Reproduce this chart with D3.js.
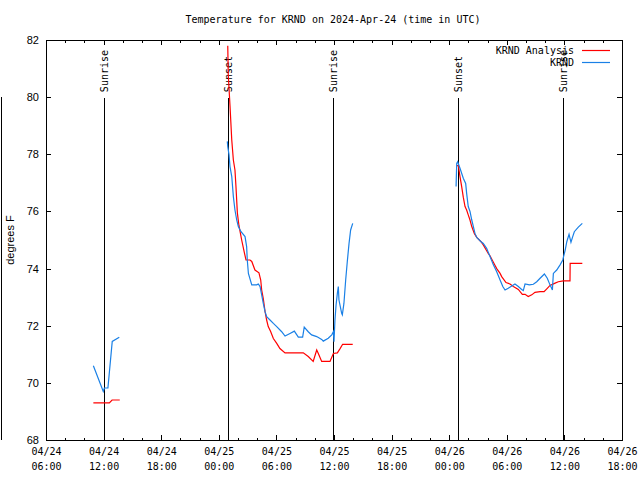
<!DOCTYPE html>
<html>
<head>
<meta charset="utf-8">
<script src="https://cdn.jsdelivr.net/npm/d3@7"></script>
<style>
  body { margin: 0; background: #fff; }
  svg { display: block; }
  text { fill: #000; }
</style>
</head>
<body>
<svg id="chart" width="640" height="480"></svg>
<script>
// ---- Data (times in UTC, "MM-DD HH:MM" in 2024) ----
const analysisTimes = [
  "04-24 10:56","04-24 12:36","04-24 12:53","04-24 13:41","04-24 18:00",
  "04-25 00:56","04-25 00:59","04-25 01:10","04-25 01:21","04-25 01:31","04-25 01:41","04-25 01:47","04-25 01:56",
  "04-25 02:06","04-25 02:23","04-25 02:40","04-25 02:50","04-25 03:15","04-25 03:26","04-25 03:46","04-25 04:11",
  "04-25 04:22","04-25 04:28","04-25 04:38","04-25 04:49","04-25 04:59","04-25 05:09","04-25 05:24","04-25 05:41",
  "04-25 06:02","04-25 06:22","04-25 06:54","04-25 08:48","04-25 09:19","04-25 09:50","04-25 10:12","04-25 10:22",
  "04-25 10:43","04-25 11:35","04-25 11:56","04-25 12:21","04-25 12:38","04-25 12:54","04-25 13:57","04-25 18:00",
  "04-26 00:47","04-26 00:57","04-26 01:08","04-26 01:18","04-26 01:28","04-26 01:39","04-26 01:49","04-26 01:59",
  "04-26 02:10","04-26 02:21","04-26 02:37","04-26 02:52","04-26 03:19","04-26 03:33","04-26 04:04","04-26 04:15",
  "04-26 04:36","04-26 04:57","04-26 05:18","04-26 05:28","04-26 05:55","04-26 06:20","04-26 06:41","04-26 07:12",
  "04-26 07:37","04-26 07:54","04-26 08:14","04-26 08:36","04-26 08:56","04-26 09:28","04-26 09:53","04-26 10:13",
  "04-26 10:30","04-26 11:02","04-26 11:22","04-26 11:53","04-26 12:35","04-26 12:36","04-26 13:52"
];
const analysisTemps = [
  69.3,69.3,69.4,69.4,null,
  81.8,80.8,79.7,78.5,77.8,77.45,76.9,75.95,
  75.5,75.0,74.55,74.3,74.3,74.25,73.95,73.85,
  73.6,73.25,72.95,72.5,72.2,71.97,71.8,71.55,
  71.38,71.2,71.05,71.05,70.92,70.75,71.15,71.03,
  70.75,70.75,71.03,71.05,71.2,71.35,71.35,null,
  77.6,77.6,77.2,76.87,76.5,76.17,76.05,75.88,
  75.7,75.47,75.23,75.09,74.94,74.83,74.53,74.45,
  74.22,74.0,73.83,73.72,73.51,73.46,73.37,73.27,
  73.1,73.1,73.02,73.08,73.17,73.19,73.19,73.31,
  73.41,73.49,73.54,73.57,73.57,74.18,74.18
];

const obsTimes = [
  "04-24 10:56","04-24 11:58","04-24 12:05","04-24 12:27","04-24 12:54","04-24 13:38","04-24 18:00",
  "04-25 00:53","04-25 00:56","04-25 01:04","04-25 01:10","04-25 01:21","04-25 01:31","04-25 01:41","04-25 01:52",
  "04-25 02:02","04-25 02:19","04-25 02:44","04-25 02:54","04-25 02:58","04-25 03:05","04-25 03:26","04-25 03:57",
  "04-25 04:07","04-25 04:18","04-25 04:28","04-25 04:38","04-25 04:49","04-25 04:59","04-25 05:20","04-25 05:41",
  "04-25 06:02","04-25 06:33","04-25 06:54","04-25 07:25","04-25 07:52","04-25 08:17","04-25 08:44","04-25 08:54",
  "04-25 09:19","04-25 09:40","04-25 10:12","04-25 10:43","04-25 10:53","04-25 11:24","04-25 11:46","04-25 11:56",
  "04-25 12:00","04-25 12:06","04-25 12:13","04-25 12:21","04-25 12:27","04-25 12:31","04-25 12:48","04-25 12:52",
  "04-25 13:02","04-25 13:13","04-25 13:23","04-25 13:34","04-25 13:44","04-25 13:57","04-25 18:00",
  "04-26 00:43","04-26 00:47","04-26 00:53","04-26 01:08","04-26 01:28","04-26 01:43","04-26 01:49","04-26 01:59",
  "04-26 02:10","04-26 02:21","04-26 02:31","04-26 02:41","04-26 02:52","04-26 03:19","04-26 03:33","04-26 03:54",
  "04-26 04:15","04-26 04:36","04-26 04:57","04-26 05:18","04-26 05:35","04-26 05:49","04-26 06:09","04-26 06:31",
  "04-26 06:51","04-26 07:12","04-26 07:33","04-26 07:43","04-26 07:54","04-26 08:21","04-26 08:46","04-26 09:07",
  "04-26 09:28","04-26 09:55","04-26 10:13","04-26 10:30","04-26 10:45","04-26 10:51","04-26 11:12","04-26 11:33",
  "04-26 11:50","04-26 11:54","04-26 12:05","04-26 12:15","04-26 12:29","04-26 12:41","04-26 12:52","04-26 13:02",
  "04-26 13:27","04-26 13:52"
];
const obsTemps = [
  70.6,69.7,69.82,69.82,71.45,71.6,null,
  78.45,78.27,77.98,77.57,77.22,76.52,76.05,75.7,
  75.47,75.29,75.12,74.77,74.3,73.83,73.43,73.43,
  73.46,73.37,73.08,72.78,72.49,72.32,72.2,72.08,
  71.97,71.79,71.64,71.73,71.81,71.6,71.6,71.95,
  71.79,71.68,71.62,71.52,71.46,71.56,71.68,71.79,
  71.44,72.2,72.73,73.13,73.37,72.9,72.43,72.38,
  72.78,73.6,74.24,74.88,75.35,75.58,null,
  76.87,77.68,77.74,77.5,77.16,76.98,76.63,76.17,
  76.0,75.7,75.47,75.23,75.09,74.94,74.88,74.71,
  74.42,74.13,73.89,73.6,73.37,73.25,73.31,73.39,
  73.46,73.37,73.27,73.23,73.46,73.43,73.45,73.54,
  73.66,73.81,73.66,73.43,73.25,73.83,73.95,74.13,
  74.3,74.4,74.65,74.94,75.2,74.92,75.12,75.29,
  75.45,75.58
];

const sunTimes  = ["04-24 12:04","04-25 00:59","04-25 11:56","04-26 00:57","04-26 11:53"];
const sunLabels = ["Sunrise","Sunset","Sunrise","Sunset","Sunrise"];

const xDomain = ["04-24 06:00","04-26 18:00"];
const yTicks = [68,70,72,74,76,78,80,82];
const seriesNames = ["KRND Analysis","KRND"];
const seriesColors = ["#ff0000","#1a80e6"];
const titleText = "Temperature for KRND on 2024-Apr-24 (time in UTC)";
const yLabel = "degrees F";

// ---- Chart ----
const parse = d3.utcParse("%Y-%m-%d %H:%M");
const P = s => parse("2024-" + s);
const mono = "'DejaVu Sans Mono', monospace";
const sans = "'Liberation Sans', Arial, sans-serif";

const L = 46, R = 622, T = 40, B = 440;
const svg = d3.select("#chart");

const x = d3.scaleUtc().domain(xDomain.map(P)).range([L, R]);
const y = d3.scaleLinear().domain([68, 82]).range([B, T]);

// left edge artifact line
svg.append("line").attr("x1", 1.5).attr("x2", 1.5).attr("y1", y(80)).attr("y2", B)
  .attr("stroke", "#000").attr("stroke-width", 1).attr("shape-rendering", "crispEdges");

// Sun event lines and labels
sunTimes.forEach((t, i) => {
  const xx = Math.round(x(P(t))) + 0.5;
  svg.append("line").attr("x1", xx).attr("x2", xx).attr("y1", y(80) + 1).attr("y2", B)
    .attr("stroke", "#000").attr("stroke-width", 1).attr("shape-rendering", "crispEdges");
  svg.append("text")
    .attr("transform", `translate(${xx},${y(80) - 5}) rotate(-90)`)
    .attr("dy", "0.35em")
    .attr("text-anchor", "start")
    .attr("font-family", mono).attr("font-size", 10)
    .text(sunLabels[i]);
});

// Axes
const majorTicks = d3.utcHour.every(6).range(P(xDomain[0]), d3.utcMinute.offset(P(xDomain[1]), 1));
const minorTicks = d3.utcHour.every(2).range(P(xDomain[0]), d3.utcMinute.offset(P(xDomain[1]), 1));
const fmtD = d3.utcFormat("%m/%d"), fmtT = d3.utcFormat("%H:%M");

function styleAxis(g) {
  g.select(".domain").remove();
  g.selectAll("line").attr("stroke", "#000").attr("shape-rendering", "crispEdges");
}

svg.append("g").attr("transform", `translate(0,${B})`)
  .call(d3.axisBottom(x).tickValues(minorTicks).tickSizeInner(-2.5).tickSizeOuter(0).tickFormat(""))
  .call(styleAxis);
svg.append("g").attr("transform", `translate(0,${T})`)
  .call(d3.axisTop(x).tickValues(minorTicks).tickSizeInner(-2.5).tickSizeOuter(0).tickFormat(""))
  .call(styleAxis);
svg.append("g").attr("transform", `translate(0,${T})`)
  .call(d3.axisTop(x).tickValues(majorTicks).tickSizeInner(-5).tickSizeOuter(0).tickFormat(""))
  .call(styleAxis);

const xb = svg.append("g").attr("transform", `translate(0,${B})`)
  .call(d3.axisBottom(x).tickValues(majorTicks).tickSizeInner(-5).tickSizeOuter(0).tickPadding(0).tickFormat(""))
  .call(styleAxis);
xb.selectAll(".tick text").remove();
xb.selectAll(".tick").each(function(d) {
  const t = d3.select(this).append("text")
    .attr("font-family", mono).attr("font-size", 10).attr("text-anchor", "middle").attr("fill", "#000");
  t.append("tspan").attr("x", 0).attr("y", 15).text(fmtD(d));
  t.append("tspan").attr("x", 0).attr("y", 30).text(fmtT(d));
});

const yl = svg.append("g").attr("transform", `translate(${L},0)`)
  .call(d3.axisLeft(y).tickValues(yTicks).tickSizeInner(-5).tickSizeOuter(0).tickPadding(7).tickFormat(d3.format("d")))
  .call(styleAxis);
yl.selectAll("text").attr("font-family", sans).attr("font-size", 11).attr("fill", "#000");
svg.append("g").attr("transform", `translate(${R},0)`)
  .call(d3.axisRight(y).tickValues(yTicks).tickSizeInner(-5).tickSizeOuter(0).tickFormat(""))
  .call(styleAxis);

// border
svg.append("rect").attr("x", L + 0.5).attr("y", T + 0.5).attr("width", R - L).attr("height", B - T)
  .attr("fill", "none").attr("stroke", "#000").attr("shape-rendering", "crispEdges");

// Data lines
const line = d3.line().defined(d => d.v != null).x(d => x(d.t)).y(d => y(d.v));
const analysis = analysisTimes.map((t, i) => ({ t: P(t), v: analysisTemps[i] }));
const obs = obsTimes.map((t, i) => ({ t: P(t), v: obsTemps[i] }));

svg.append("path").datum(analysis).attr("d", line)
  .attr("fill", "none").attr("stroke", seriesColors[0]).attr("stroke-width", 1.2);
svg.append("path").datum(obs).attr("d", line)
  .attr("fill", "none").attr("stroke", seriesColors[1]).attr("stroke-width", 1.2);

// Legend
seriesNames.forEach((n, i) => {
  const ly = 50 + i * 12;
  svg.append("text").attr("x", 574).attr("y", ly).attr("dy", "0.35em")
    .attr("text-anchor", "end").attr("font-family", mono).attr("font-size", 10).text(n);
  svg.append("line").attr("x1", 582).attr("x2", 610).attr("y1", ly + 0.5).attr("y2", ly + 0.5)
    .attr("stroke", seriesColors[i]).attr("stroke-width", 1.2);
});

// Title
svg.append("text").attr("x", 333).attr("y", 19).attr("dy", "0.35em")
  .attr("text-anchor", "middle").attr("font-family", mono).attr("font-size", 10).text(titleText);

// Y label
svg.append("text").attr("transform", `translate(10,240) rotate(-90)`)
  .attr("dy", "0.35em").attr("text-anchor", "middle")
  .attr("font-family", sans).attr("font-size", 11).text(yLabel);
</script>
</body>
</html>
